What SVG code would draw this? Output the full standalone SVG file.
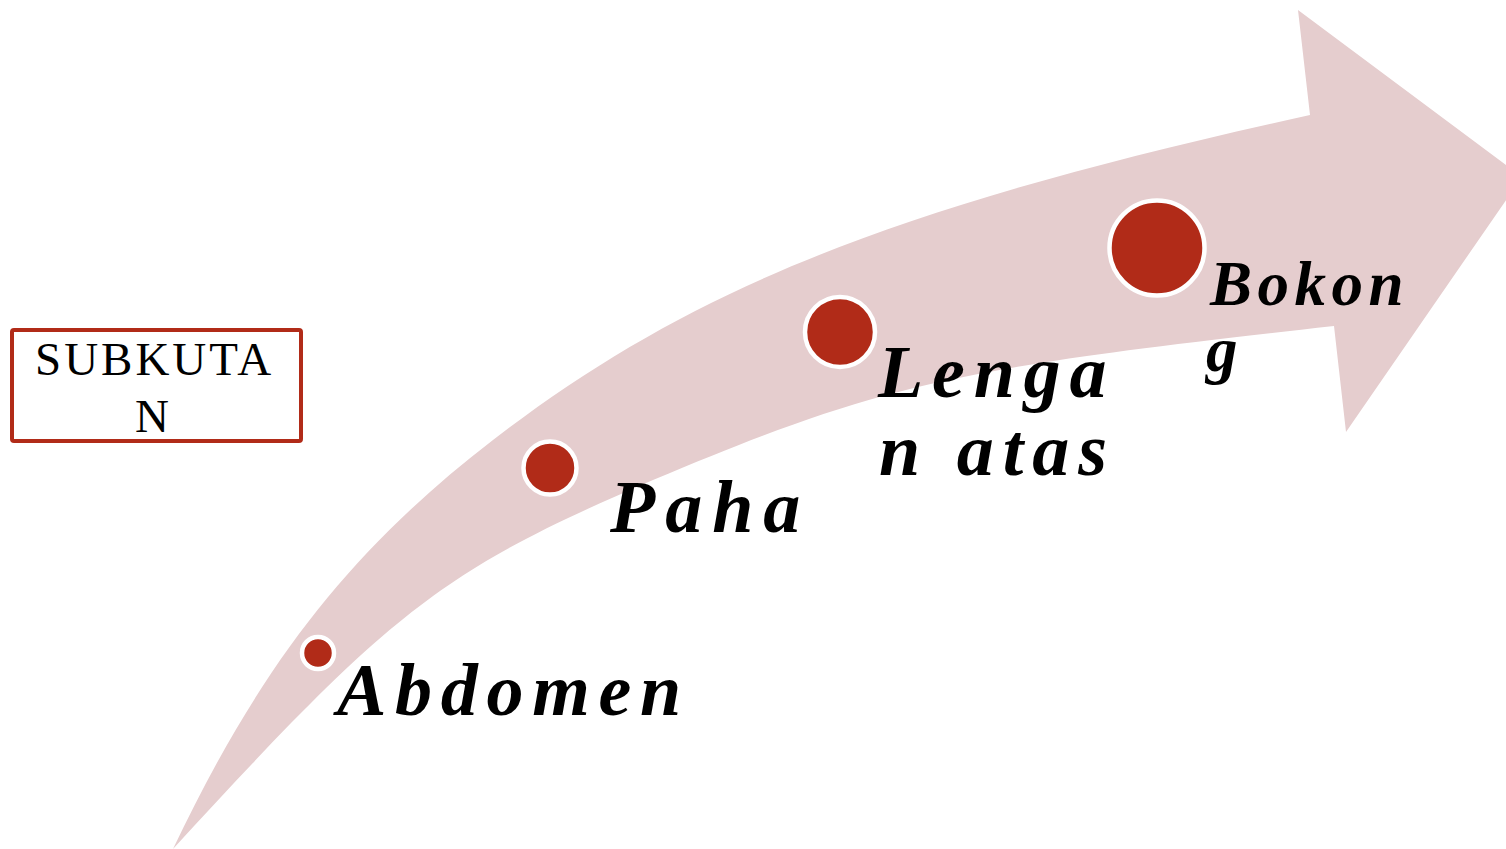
<svg xmlns="http://www.w3.org/2000/svg" width="1506" height="849" viewBox="0 0 1506 849">
  <style>
    .arrow { fill: #E5CDCE; stroke: none; }
    .dot { fill: #B12B18; stroke: #FFFFFF; stroke-width: 4.5; }
    .lbl { font-family: "Liberation Serif", "Times New Roman", serif; font-weight: bold; font-style: italic; fill: #000000; }
    .box { fill: #FFFFFF; stroke: #B12B18; stroke-width: 4; }
    .boxtxt { font-family: "Liberation Serif", "Times New Roman", serif; font-size: 47px; fill: #000000; }
  </style>
  <rect width="1506" height="849" fill="#FFFFFF"/>
  <g id="connectors">
    <path class="arrow" d="M173,849
      C261,664 350.7,549.6 493,440
      C691,287.5 895.3,206.3 1310,115
      L1298,10 L1522,177 L1346,432 L1334,326
      C950.6,368.3 882.5,383.7 653,480
      C442.8,570.4 394.8,607.3 173,849 Z"/>
  </g>
  <g id="node-subkutan">
    <rect class="box" x="12" y="330" width="289" height="111" rx="2"/>
    <text class="boxtxt" x="35" y="375" letter-spacing="3">SUBKUTA</text>
    <text class="boxtxt" x="135" y="432">N</text>
  </g>
  <g id="node-abdomen">
    <circle class="dot" cx="318" cy="653" r="16"/>
    <text class="lbl" x="337" y="715" font-size="74" letter-spacing="8.7">Abdomen</text>
  </g>
  <g id="node-paha">
    <circle class="dot" cx="550" cy="468" r="26.5"/>
    <text class="lbl" x="610" y="532" font-size="74" letter-spacing="10">Paha</text>
  </g>
  <g id="node-lengan">
    <circle class="dot" cx="840" cy="332" r="35"/>
    <text class="lbl" x="878" y="397" font-size="74" letter-spacing="8.8">Lenga</text>
    <text class="lbl" x="879" y="475" font-size="74" letter-spacing="9">n atas</text>
  </g>
  <g id="node-bokong">
    <circle class="dot" cx="1157" cy="248" r="47.5"/>
    <text class="lbl" x="1210" y="305" font-size="63" letter-spacing="5.5">Bokon</text>
    <text class="lbl" x="1206" y="371" font-size="63">g</text>
  </g>
</svg>
